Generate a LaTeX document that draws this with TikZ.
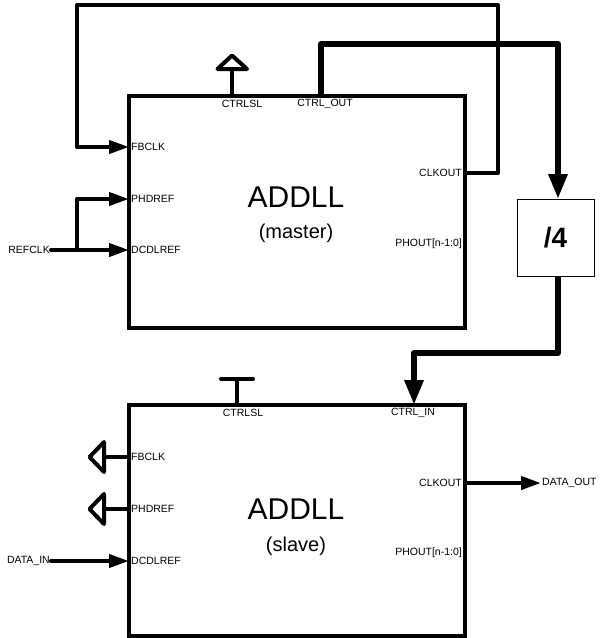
\documentclass[tikz,border=0pt]{standalone}
\usepackage{fontspec}
\setmainfont{Liberation Sans}
\usetikzlibrary{arrows.meta}
\begin{document}
\begin{tikzpicture}[x=1pt,y=-1pt,
  block/.style={draw, line width=4pt, inner sep=0pt, outer sep=0pt, anchor=north west},
  port/.style={font=\fontsize{10.5}{12}\selectfont, inner sep=1pt},
  sig/.style={line width=4pt, line join=round},
  bus/.style={line width=6pt, line join=round},
  tip/.style={-{Triangle[length=20pt,width=13pt]}},
  bigtip/.style={-{Triangle[length=25pt,width=18pt]}},
  title/.style={font=\fontsize{30}{32}\selectfont, inner sep=0pt},
  subtitle/.style={font=\fontsize{20}{22}\selectfont, inner sep=0pt}]
\useasboundingbox (0,0) rectangle (601,638);

% blocks
\node[block, minimum width=336pt, minimum height=232pt] (M) at (129,96) {};
\node[block, minimum width=336pt, minimum height=231pt] (S) at (129,405) {};
\node[draw, line width=0.8pt, minimum width=77pt, minimum height=77pt, inner sep=0pt,
      font=\fontsize{28}{30}\selectfont\bfseries] (div) at (555.5,237.5) {/4};

% titles
\node[title] (Mt) at (296,197.5) {ADDLL};
\node[subtitle] (Ms) at (296,233) {(master)};
\node[title] (St) at (296,509) {ADDLL};
\node[subtitle] (Ss) at (296,546) {(slave)};

% master port labels
\node[port, anchor=west] (lMfb) at (130,147) {FBCLK};
\node[port, anchor=west] (lMph) at (130,199) {PHDREF};
\node[port, anchor=west] (lMdc) at (130,250) {DCDLREF};
\node[port, anchor=east] (lMclk) at (463,173) {CLKOUT};
\node[port, anchor=east] (lMpo) at (463,244) {PHOUT[n-1:0]};
\node[port] (lMsl) at (242,104) {CTRLSL};
\node[port] (lMco) at (325,104) {CTRL\_OUT};

% slave port labels
\node[port, anchor=west] (lSfb) at (130,457) {FBCLK};
\node[port, anchor=west] (lSph) at (130,509) {PHDREF};
\node[port, anchor=west] (lSdc) at (130,561) {DCDLREF};
\node[port, anchor=east] (lSclk) at (463,483) {CLKOUT};
\node[port, anchor=east] (lSpo) at (463,553) {PHOUT[n-1:0]};
\node[port] (lSsl) at (243,413) {CTRLSL};
\node[port] (lSci) at (413,413) {CTRL\_IN};

% external labels
\node[port, anchor=east] (refclk) at (51,250) {REFCLK};
\node[port, anchor=east] (datain) at (51,561) {DATA\_IN};
\node[port, anchor=west] (dataout) at (541,483) {DATA\_OUT};

% port coordinates
\coordinate (Mfb) at (129,147);
\coordinate (Mph) at (129,199);
\coordinate (Mdc) at (129,250);
\coordinate (Mclk) at (465,173);
\coordinate (Msl) at (232,96);
\coordinate (Mco) at (321,96);
\coordinate (Sfb) at (129,457);
\coordinate (Sph) at (129,509);
\coordinate (Sdc) at (129,561);
\coordinate (Sclk) at (465,483);
\coordinate (Ssl) at (237,405);
\coordinate (Sci) at (414,405);
\coordinate (divin) at (558,199);
\coordinate (divout) at (558,276);

% routing points
\coordinate (j1) at (77,250);
\coordinate (fbTR) at (498,5);
\coordinate (fbL) at (77,147);
\coordinate (coA) at (321,44);
\coordinate (b1) at (414,353);

% CTRL_OUT bus to divider
\draw[bus, bigtip] (Mco) -- (coA) -| (divin);
% divider to slave CTRL_IN
\draw[bus, bigtip] (divout) |- (b1) -- (Sci);

% master feedback loop
\draw[sig, tip] (Mclk) -| (fbTR) -| (fbL) -- (Mfb);
% REFCLK
\draw[sig, tip, line cap=round] (refclk.east) -- (Mdc);
\draw[sig, tip] (j1) |- (Mph);

% master CTRLSL open triangle
\coordinate (MslT) at (232,69);
\draw[sig] (Msl) -- (MslT);
\draw[sig] (217.5,69) -- (247,69) -- (232,55.5) -- cycle;

% slave CTRLSL tie bar
\coordinate (SslT) at (237,379);
\draw[sig] (Ssl) -- (SslT);
\draw[sig, line cap=round] (221,379) -- (253,379);

% slave FBCLK / PHDREF open triangles
\coordinate (SfbT) at (104,457);
\draw[sig] (Sfb) -- (SfbT);
\draw[sig] (104,442) -- (104,472) -- (89.5,457) -- cycle;
\coordinate (SphT) at (104,509);
\draw[sig] (Sph) -- (SphT);
\draw[sig] (104,494) -- (104,524) -- (89.5,509) -- cycle;

% DATA_IN and DATA_OUT
\draw[sig, tip, line cap=round] (datain.east) -- (Sdc);
\draw[sig, tip] (Sclk) -- (dataout.west);
\end{tikzpicture}
\end{document}
